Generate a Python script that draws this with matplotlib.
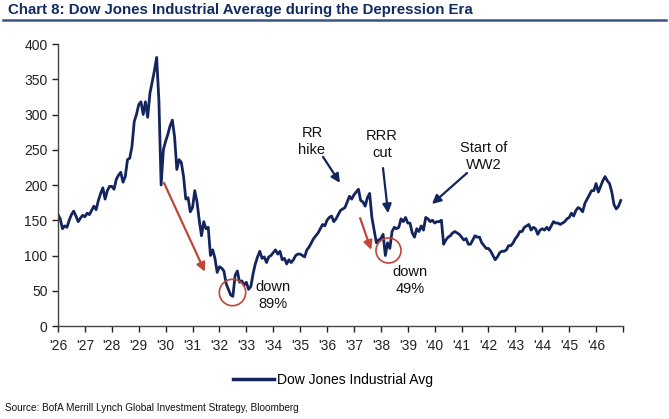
import numpy as np
import matplotlib
matplotlib.use('Agg')
import matplotlib.pyplot as plt
from matplotlib.lines import Line2D

# --- Data (monthly levels, Jan 1926 - Dec 1946) ---
START_YEAR = 1926
DJIA = [
    158, 152, 138, 142, 140, 150, 158, 163, 156, 148, 153, 157,   # 1926
    155, 160, 158, 164, 170, 165, 178, 188, 196, 180, 192, 198,   # 1927
    198, 194, 208, 214, 218, 204, 212, 236, 238, 255, 290, 300,   # 1928
    314, 318, 300, 318, 296, 330, 346, 362, 381, 320, 200, 250,   # 1929
    262, 272, 284, 292, 268, 222, 236, 232, 212, 180, 182, 162,   # 1930
    168, 192, 176, 150, 128, 148, 138, 140, 100, 108, 96, 76,     # 1931
    84, 82, 78, 60, 52, 44, 42, 72, 78, 62, 64, 58,               # 1932
    62, 52, 56, 74, 88, 98, 106, 96, 98, 90, 98, 100,             # 1933
    104, 108, 102, 106, 94, 96, 88, 94, 90, 94, 100, 102,         # 1934
    102, 100, 98, 108, 112, 118, 124, 128, 132, 138, 144, 142,    # 1935
    150, 154, 156, 148, 152, 158, 164, 166, 168, 176, 184, 180,   # 1936
    186, 190, 194, 178, 176, 170, 182, 188, 154, 136, 118, 122,   # 1937
    124, 130, 100, 118, 110, 134, 140, 138, 140, 152, 148, 154,   # 1938
    146, 146, 132, 126, 138, 134, 142, 136, 154, 152, 148, 150,   # 1939
    146, 148, 148, 150, 116, 122, 126, 128, 132, 134, 132, 130,   # 1940
    126, 122, 124, 116, 116, 122, 128, 126, 126, 118, 114, 110,   # 1941
    110, 106, 100, 94, 98, 104, 106, 106, 108, 114, 114, 118,     # 1942
    124, 128, 134, 134, 140, 142, 144, 136, 140, 138, 130, 136,   # 1943
    138, 136, 140, 136, 142, 148, 146, 146, 144, 146, 148, 152,   # 1944
    154, 160, 156, 164, 168, 166, 162, 174, 180, 186, 192, 192,   # 1945
    202, 190, 198, 206, 212, 206, 202, 190, 172, 166, 170, 178,   # 1946
]
YEAR_TICKS = list(range(1926, 1948))
YEAR_LABELS = ["'%02d" % (y % 100) for y in range(1926, 1947)] + ['']
Y_TICKS = [0, 50, 100, 150, 200, 250, 300, 350, 400]

# --- Style ---
NAVY = '#14255e'
RED = '#c0453a'
FONT = ['Liberation Sans Narrow', 'Liberation Sans', 'DejaVu Sans']
plt.rcParams['font.family'] = FONT

years = START_YEAR + np.arange(len(DJIA)) / 12.0

fig = plt.figure(figsize=(6.69, 4.19), dpi=100)
ax = fig.add_axes([58 / 669, 1 - 326 / 419, 565 / 669, 282 / 419])

ax.plot(years, DJIA, color=NAVY, lw=2.0, solid_joinstyle='round')

ax.set_xlim(1926, 1947)
ax.set_ylim(0, 400)
ax.set_xticks(YEAR_TICKS)
ax.set_xticklabels(YEAR_LABELS)
ax.set_yticks(Y_TICKS)
ax.tick_params(axis='both', labelsize=10, colors='#222222', length=4,
               width=1.0, direction='out')
ax.tick_params(axis='x', pad=5)
for side in ['top', 'right']:
    ax.spines[side].set_visible(False)
for side in ['left', 'bottom']:
    ax.spines[side].set_color('#444444')
    ax.spines[side].set_linewidth(1.0)

# --- Annotations ---
navy_arrow = dict(arrowstyle='-|>', color=NAVY, lw=1.6, mutation_scale=13,
                  shrinkA=0, shrinkB=0)
red_arrow = dict(arrowstyle='-|>', color=RED, lw=1.6, mutation_scale=13,
                 shrinkA=0, shrinkB=0)
txt = dict(ha='center', va='center', fontsize=10.5, color='#111111',
           linespacing=1.3)

ax.text(1935.44, 262, 'RR\nhike', **txt)
ax.annotate('', xy=(1936.48, 203), xytext=(1935.85, 240), arrowprops=navy_arrow)

ax.text(1938.04, 257, 'RRR\ncut', **txt)
ax.annotate('', xy=(1938.27, 160), xytext=(1938.08, 224), arrowprops=navy_arrow)

ax.text(1941.84, 240, 'Start of\nWW2', **txt)
ax.annotate('', xy=(1939.9, 173), xytext=(1941.2, 217), arrowprops=navy_arrow)

ax.annotate('', xy=(1931.46, 77), xytext=(1929.94, 203), arrowprops=red_arrow)
ax.plot([1932.47], [48], 'o', ms=19, mfc='none', mec=RED, mew=1.2)
ax.text(1933.99, 43, 'down\n89%', **txt)

ax.annotate('', xy=(1937.64, 108), xytext=(1937.23, 153), arrowprops=red_arrow)
ax.plot([1938.27], [108], 'o', ms=18, mfc='none', mec=RED, mew=1.2)
ax.text(1939.09, 65, 'down\n49%', **txt)

# --- Legend ---
handle = Line2D([], [], color=NAVY, lw=2.5)
fig.legend([handle], ['Dow Jones Industrial Avg'], loc='center',
           bbox_to_anchor=(333 / 669, 1 - 380 / 419), frameon=False,
           fontsize=10, handlelength=2.9, handletextpad=0.2)

# --- Title, rule and source ---
fig.text(8 / 669, 1 - 10 / 419, 'Chart 8: Dow Jones Industrial Average during the Depression Era',
         ha='left', va='center', fontsize=10.8, fontweight='bold', color='#112a60')
fig.add_artist(Line2D([3 / 669, 666 / 669], [1 - 20 / 419, 1 - 20 / 419],
                      color='#3b5583', lw=1.8))
fig.text(5 / 669, 1 - 408 / 419,
         'Source: BofA Merrill Lynch Global Investment Strategy, Bloomberg',
         ha='left', va='center', fontsize=7.2, color='#111111')

fig.savefig('out.png', dpi=100)
